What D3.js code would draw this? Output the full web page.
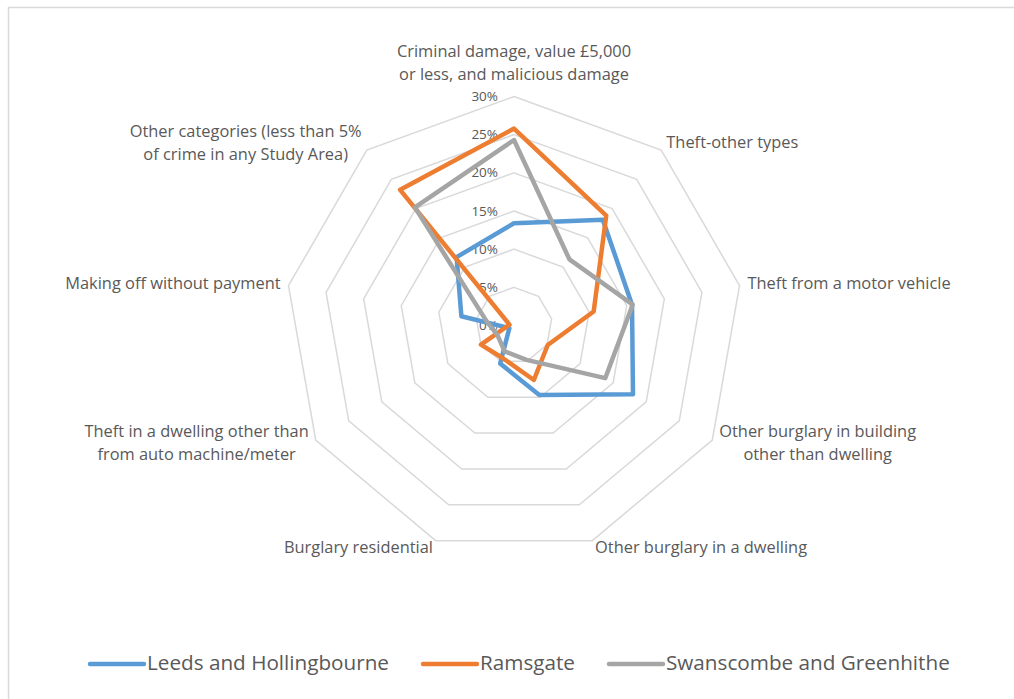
<!DOCTYPE html>
<html>
<head>
<meta charset="utf-8">
<script src="https://cdn.jsdelivr.net/npm/d3@7"></script>
<style>
  html, body { margin: 0; padding: 0; background: #fff; }
  svg { display: block; }
  text { font-family: "Open Sans", Lato, sans-serif; fill: #595959; }
</style>
</head>
<body>
<svg id="chart" width="1014" height="699"></svg>
<script>
// Crime categories, clockwise from the top
const categories = [
  ["Criminal damage, value £5,000", "or less, and malicious damage"],
  ["Theft-other types"],
  ["Theft from a motor vehicle"],
  ["Other burglary in building", "other than dwelling"],
  ["Other burglary in a dwelling"],
  ["Burglary residential"],
  ["Theft in a dwelling other than", "from auto machine/meter"],
  ["Making off without payment"],
  ["Other categories (less than 5%", "of crime in any Study Area)"]
];

const seriesNames = ["Leeds and Hollingbourne", "Ramsgate", "Swanscombe and Greenhithe"];

// Share of recorded crime (%) per category
const leedsValues      = [13.4, 18.1, 15.7, 18.0, 9.7, 5.3, 0.7, 7.0, 11.7];
const ramsgateValues   = [25.8, 18.8, 10.6, 5.1, 7.6, 4.5, 5.0, 0.6, 23.2];
const swanscombeValues = [24.3, 11.3, 15.8, 13.8, 4.8, 3.6, 2.5, 3.7, 20.2];

const ringTicks = [0, 5, 10, 15, 20, 25, 30];
const seriesColors = ["#5b9bd5", "#ed7d31", "#a5a5a5"];

const svg = d3.select("#chart");
const W = 1014, H = 699;
const cx = 514, cy = 325.5, R = 229;

// chart area frame
svg.append("rect")
  .attr("x", 8.5).attr("y", 7.5)
  .attr("width", W + 20).attr("height", H + 20)
  .attr("fill", "none").attr("stroke", "#d9d9d9").attr("stroke-width", 1.5);

const n = categories.length;
const angle = d3.scaleLinear().domain([0, n]).range([0, 2 * Math.PI]);
const r = d3.scaleLinear().domain([0, 30]).range([0, R]);

const pt = (i, v) => [cx + r(v) * Math.sin(angle(i)), cy - r(v) * Math.cos(angle(i))];

const g = svg.append("g");

// concentric grid polygons
const ringLine = d3.line().curve(d3.curveLinearClosed);
g.selectAll("path.ring")
  .data(ringTicks.filter(t => t > 0))
  .join("path")
  .attr("class", "ring")
  .attr("d", t => ringLine(d3.range(n).map(i => pt(i, t))))
  .attr("fill", "none")
  .attr("stroke", "#d9d9d9")
  .attr("stroke-width", 1.5);

// ring value labels
g.selectAll("text.tick")
  .data(ringTicks)
  .join("text")
  .attr("class", "tick")
  .attr("x", cx - 16)
  .attr("y", t => cy - r(t) + 1)
  .attr("text-anchor", "end")
  .attr("dominant-baseline", "middle")
  .style("font-size", "13.5px")
  .text(t => t + "%");

// series outlines
const allSeries = [leedsValues, ramsgateValues, swanscombeValues];
g.selectAll("path.series")
  .data(allSeries)
  .join("path")
  .attr("class", "series")
  .attr("d", vals => ringLine(vals.map((v, i) => pt(i, v))))
  .attr("fill", "none")
  .attr("stroke", (d, i) => seriesColors[i])
  .attr("stroke-width", 4.5)
  .attr("stroke-linejoin", "round");

// category labels around the outer ring
const lineH = 23;
const labelFont = "16.4px";
categories.forEach((lines, i) => {
  const a = angle(i);
  const [ax, ay] = [cx + (R + 8) * Math.sin(a), cy - (R + 8) * Math.cos(a)];
  const dx = Math.sin(a);
  const grp = g.append("g");
  const texts = grp.selectAll("text").data(lines).join("text")
    .style("font-size", labelFont)
    .attr("dominant-baseline", "middle")
    .attr("text-anchor", "middle")
    .text(d => d);
  const widths = texts.nodes().map(nd => nd.getComputedTextLength());
  const bw = d3.max(widths);
  let centerX;
  if (Math.abs(dx) < 0.01) centerX = ax;
  else if (dx > 0) centerX = ax + bw / 2;
  else centerX = ax - bw / 2;
  let firstY;
  if (Math.abs(dx) < 0.01) firstY = ay - 13 - (lines.length - 1) * lineH;
  else firstY = ay - (lines.length - 1) * lineH / 2;
  texts.attr("x", centerX).attr("y", (d, k) => firstY + k * lineH);
});

// legend
const legend = svg.append("g");
const legendY = 664;
let lx = 90;
seriesNames.forEach((name, i) => {
  legend.append("line")
    .attr("x1", lx).attr("x2", lx + 54)
    .attr("y1", legendY).attr("y2", legendY)
    .attr("stroke", seriesColors[i]).attr("stroke-width", 4.5)
    .attr("stroke-linecap", "round");
  const t = legend.append("text")
    .attr("x", lx + 57).attr("y", legendY)
    .attr("dominant-baseline", "middle")
    .style("font-size", "20.7px")
    .text(name);
  lx += 57 + t.node().getComputedTextLength() + 34;
});
</script>
</body>
</html>
